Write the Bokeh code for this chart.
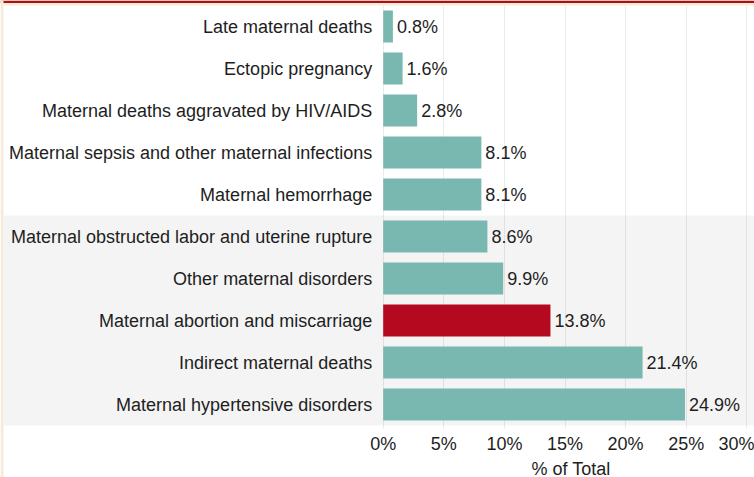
from bokeh.plotting import figure
from bokeh.models import Range1d, BoxAnnotation, FixedTicker, ColumnDataSource, Label
from bokeh.core.properties import value
from bokeh.embed import file_html
from bokeh.resources import INLINE

categories = [
    "Late maternal deaths",
    "Ectopic pregnancy",
    "Maternal deaths aggravated by HIV/AIDS",
    "Maternal sepsis and other maternal infections",
    "Maternal hemorrhage",
    "Maternal obstructed labor and uterine rupture",
    "Other maternal disorders",
    "Maternal abortion and miscarriage",
    "Indirect maternal deaths",
    "Maternal hypertensive disorders",
]
values = [0.8, 1.6, 2.8, 8.1, 8.1, 8.6, 9.9, 13.8, 21.4, 24.9]
highlight = "Maternal abortion and miscarriage"
tick_values = [0, 5, 10, 15, 20, 25, 30]
tick_labels = ["0%", "5%", "10%", "15%", "20%", "25%", "30%"]
axis_title = "% of Total"

TEAL = "#79b8b1"
RED = "#b5091f"
FONT = "Liberation Sans"
TXT = "#1e1e1e"

# row positions (top row first)
n = len(categories)
ypos = [n - 1 - i for i in range(n)]

src = ColumnDataSource(dict(
    y=ypos,
    val=values,
    label=[f"{v:.1f}%" for v in values],
    color=[RED if c == highlight else TEAL for c in categories],
))

W, H = 754, 477
X0 = 382.7          # pixel position of 0%
PXX = 12.12         # px per percent
TOP = 5.0           # pixel top of rows
ROW = 42.0          # px per row
xs = lambda px: (px - X0) / PXX
ys = lambda py: (n - 0.5) - (py - TOP) / ROW

p = figure(width=W, height=H, output_backend="svg", toolbar_location=None,
           x_range=Range1d(xs(0), xs(W)), y_range=Range1d(ys(H), ys(0)),
           min_border_left=0, min_border_right=0, min_border_top=0, min_border_bottom=0)
p.outline_line_color = None
p.background_fill_color = "white"
p.border_fill_color = "white"

# grid
p.ygrid.grid_line_color = None
p.xgrid.ticker = FixedTicker(ticks=tick_values)
p.xgrid.grid_line_color = "#ebebeb"
p.xgrid.grid_line_width = 1
p.xgrid.cross_bounds = (-0.5 - 3 / ROW, n - 0.5)

# light grey band behind the lower five rows (across label area)
p.add_layout(BoxAnnotation(left=xs(3), bottom=-0.5, top=4.5, fill_color="black", fill_alpha=0.043,
                           line_color=None, level="underlay"))
# decorative top rule and beige strips
p.add_layout(BoxAnnotation(bottom=ys(2.6), fill_color="#b10e0e", fill_alpha=1, line_color=None))
p.add_layout(BoxAnnotation(bottom=ys(5), top=ys(2.6), fill_color="#f5ebdb", fill_alpha=1, line_color=None))
p.add_layout(BoxAnnotation(right=xs(3), fill_color="#f5ebdb", fill_alpha=1, line_color=None))

p.hbar(y="y", left=0, right="val", height=0.76, fill_color="color", line_color=None, source=src)
p.text(x="val", y="y", text="label", x_offset=4, text_baseline="middle", text_align="left",
       text_font=value(FONT), text_font_size="18px", text_color=TXT, source=src)

# category axis drawn at x = 0
p.yaxis.fixed_location = 0
p.yaxis.ticker = FixedTicker(ticks=ypos)
p.yaxis.major_label_overrides = {y: c for y, c in zip(ypos, categories)}
p.yaxis.axis_line_color = None
p.yaxis.major_tick_line_color = None
p.yaxis.minor_tick_line_color = None
p.yaxis.major_label_standoff = 5
p.yaxis.major_label_text_font = FONT
p.yaxis.major_label_text_font_size = "18px"
p.yaxis.major_label_text_color = TXT

# value axis drawn at bottom of rows
p.xaxis.fixed_location = -0.5
p.xaxis.ticker = FixedTicker(ticks=tick_values)
p.xaxis.major_label_overrides = {t: l for t, l in zip(tick_values, tick_labels)}
p.xaxis.axis_line_color = None
p.xaxis.minor_tick_line_color = None
p.xaxis.major_tick_in = 0
p.xaxis.major_tick_out = 3
p.xaxis.major_tick_line_color = "#ebebeb"
p.xaxis.major_label_standoff = 5
p.xaxis.major_label_text_font = FONT
p.xaxis.major_label_text_font_size = "18px"
p.xaxis.major_label_text_color = TXT

p.add_layout(Label(x=15.5, y=ys(468), text=axis_title, text_align="center", text_baseline="middle",
                   text_font=FONT, text_font_size="18px", text_color=TXT))

open("out.html", "w").write(file_html(p, INLINE))
